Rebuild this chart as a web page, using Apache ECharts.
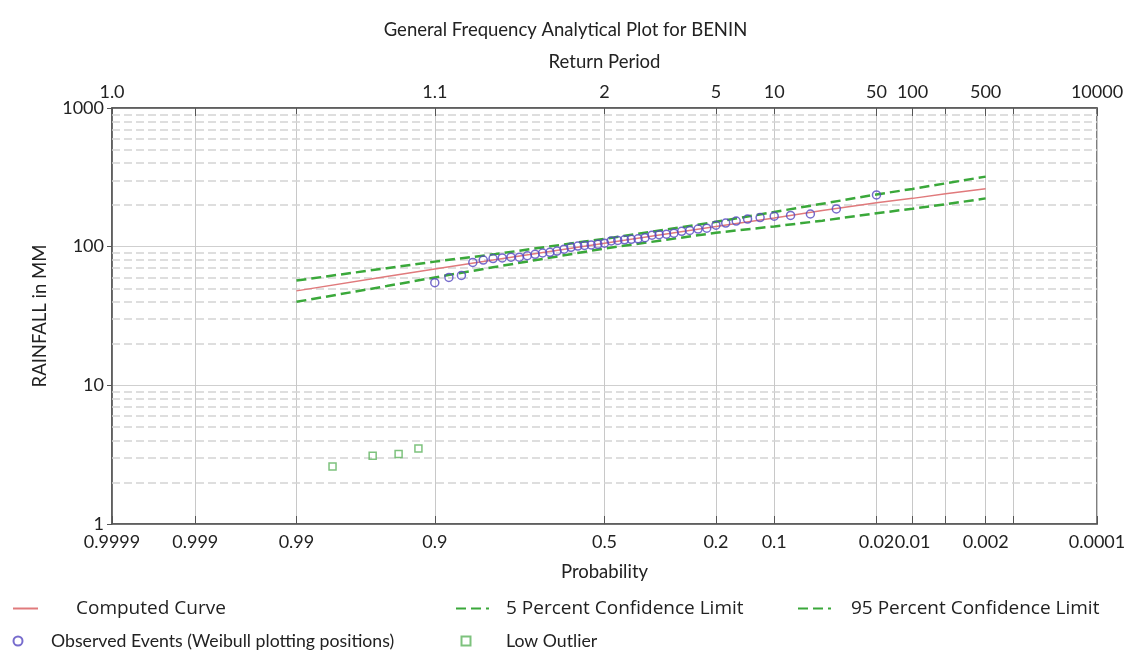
<!DOCTYPE html>
<html><head><meta charset="utf-8">
<script src="https://cdn.jsdelivr.net/npm/echarts@6/dist/echarts.min.js"></script>
<style>html,body{margin:0;padding:0;background:#fff}#c{width:1131px;height:662px}</style>
</head><body><div id="c"></div>
<script>
const FONT = 'Lato, "Open Sans", sans-serif';
const FONT_WIDE = '"Open Sans", Lato, sans-serif';

// exceedance probabilities used as ticks on the probability axis
const probTicks = [0.9999, 0.999, 0.99, 0.9, 0.5, 0.2, 0.1, 0.02, 0.01, 0.005, 0.002, 0.001, 0.0001];
const probLabels = ['0.9999', '0.999', '0.99', '0.9', '0.5', '0.2', '0.1', '0.02', '0.01', '', '0.002', '', '0.0001'];
const returnLabels = ['1.0', '', '', '1.1', '2', '5', '10', '50', '100', '', '500', '', '10000'];

// computed curve and confidence limits
const curveProb = [0.99, 0.95, 0.9, 0.8, 0.5, 0.2, 0.1, 0.05, 0.02, 0.01, 0.005, 0.002];
const computedVals = [48, 61, 69, 80, 106, 140, 161, 182, 207, 223, 241, 262];
const upper5Vals = [57, 70, 78, 88, 114, 151, 178, 204, 238, 261, 286, 320];
const lower95Vals = [40, 52, 60, 71, 97, 126, 140, 154, 174, 188, 202, 223];

// observed events (Weibull plotting positions)
const obsProb = [0.02, 0.04, 0.06, 0.08, 0.10, 0.12, 0.14, 0.16, 0.18, 0.20,
                 0.22, 0.24, 0.26, 0.28, 0.30, 0.32, 0.34, 0.36, 0.38, 0.40,
                 0.42, 0.44, 0.46, 0.48, 0.50, 0.52, 0.54, 0.56, 0.58, 0.60,
                 0.62, 0.64, 0.66, 0.68, 0.70, 0.72, 0.74, 0.76, 0.78, 0.80,
                 0.82, 0.84, 0.86, 0.88, 0.90];
const obsVals = [236, 187, 172, 168, 166, 162, 158, 153, 148, 143,
                 136, 134, 131, 129, 125, 123, 122, 121, 116, 114,
                 113, 112, 111, 110, 106, 104, 103, 102, 101, 99,
                 96, 93, 91, 90, 88, 86, 84, 84, 83, 82,
                 80, 77, 62, 60, 55];

// low outliers
const outlierProb = [0.92, 0.94, 0.96, 0.98];
const outlierVals = [3.5, 3.2, 3.1, 2.6];

// y-axis minor grid values (log decades)
const minorGridY = [2,3,4,5,6,7,8,9,20,30,40,50,60,70,80,90,200,300,400,500,600,700,800,900];

// inverse standard normal CDF (Acklam)
function normInv(p) {
  const a = [-3.969683028665376e+01, 2.209460984245205e+02, -2.759285104469687e+02, 1.383577518672690e+02, -3.066479806614716e+01, 2.506628277459239e+00];
  const b = [-5.447609879822406e+01, 1.615858368580409e+02, -1.556989798598866e+02, 6.680131188771972e+01, -1.328068155288572e+01];
  const c = [-7.784894002430293e-03, -3.223964580411365e-01, -2.400758277161838e+00, -2.549671348740609e+00, 4.374664141464968e+00, 2.938163982698783e+00];
  const d = [7.784695709041462e-03, 3.224671290700398e-01, 2.445134137142996e+00, 3.754408661907416e+00];
  const plow = 0.02425, phigh = 1 - plow;
  let q, r;
  if (p < plow) {
    q = Math.sqrt(-2 * Math.log(p));
    return (((((c[0]*q+c[1])*q+c[2])*q+c[3])*q+c[4])*q+c[5]) / ((((d[0]*q+d[1])*q+d[2])*q+d[3])*q+1);
  } else if (p <= phigh) {
    q = p - 0.5; r = q*q;
    return (((((a[0]*r+a[1])*r+a[2])*r+a[3])*r+a[4])*r+a[5])*q / (((((b[0]*r+b[1])*r+b[2])*r+b[3])*r+b[4])*r+1);
  } else {
    q = Math.sqrt(-2 * Math.log(1 - p));
    return -(((((c[0]*q+c[1])*q+c[2])*q+c[3])*q+c[4])*q+c[5]) / ((((d[0]*q+d[1])*q+d[2])*q+d[3])*q+1);
  }
}
// exceedance probability -> normal probability-paper coordinate
const zOf = p => normInv(1 - p);
const zTicks = probTicks.map(zOf);
const xMin = zTicks[0], xMax = zTicks[zTicks.length - 1];
function labelFor(arr) {
  return v => { for (let i = 0; i < zTicks.length; i++) if (Math.abs(zTicks[i] - v) < 1e-6) return arr[i]; return ''; };
}
const pairs = (ps, vs) => ps.map((p, i) => [zOf(p), vs[i]]);

const chart = echarts.init(document.getElementById('c'), null, { renderer: 'canvas' });
const axisLabelStyle = { color: '#222', fontSize: 18, fontFamily: FONT };
const nameStyle = { color: '#222', fontSize: 18.5, fontFamily: FONT };
const legendText = (pad, font, size) => ({ color: '#222', fontSize: size, fontFamily: font, padding: [0, 0, 0, pad] });

chart.setOption({
  animation: false,
  backgroundColor: '#fff',
  title: {
    text: 'General Frequency Analytical Plot for BENIN',
    left: 'center', top: 16,
    textStyle: { color: '#222', fontSize: 18.5, fontWeight: 'normal', fontFamily: FONT }
  },
  grid: { left: 112, right: 34, top: 108, bottom: 138, show: true, borderColor: '#555', borderWidth: 1.5, containLabel: false },
  xAxis: [{
    type: 'value', position: 'bottom', min: xMin, max: xMax,
    name: 'Probability', nameLocation: 'middle', nameGap: 39,
    nameTextStyle: nameStyle,
    axisLine: { show: true, onZero: false, lineStyle: { color: '#555', width: 1.5 } },
    axisTick: { show: true, inside: true, length: 8, customValues: zTicks, lineStyle: { color: '#555' } },
    axisLabel: { customValues: zTicks, formatter: labelFor(probLabels), margin: 9, ...axisLabelStyle },
    splitLine: { show: true, lineStyle: { color: '#c8c8c8', width: 1 } }
  }, {
    type: 'value', position: 'top', min: xMin, max: xMax,
    name: 'Return Period', nameLocation: 'middle', nameGap: 36,
    nameTextStyle: nameStyle,
    axisLine: { show: true, onZero: false, lineStyle: { color: '#555', width: 1.5 } },
    axisTick: { show: true, inside: true, length: 8, customValues: zTicks, lineStyle: { color: '#555' } },
    axisLabel: { customValues: zTicks, formatter: labelFor(returnLabels), margin: 7, ...axisLabelStyle },
    splitLine: { show: false }
  }],
  yAxis: {
    type: 'log', logBase: 10, min: 1, max: 1000,
    name: 'RAINFALL in MM', nameLocation: 'middle', nameRotate: 90, nameGap: 62,
    nameTextStyle: nameStyle,
    axisLine: { show: true, onZero: false, lineStyle: { color: '#555', width: 1.5 } },
    axisTick: { show: true, inside: false, length: 5, lineStyle: { color: '#555' } },
    axisLabel: { margin: 8, formatter: v => String(Math.round(v)), ...axisLabelStyle },
    splitLine: { show: true, lineStyle: { color: '#cfcfcf', width: 1 } },
    minorTick: { show: false }, minorSplitLine: { show: false }
  },
  legend: [
    { data: ['Computed Curve'], left: 7, top: 594, itemWidth: 25, itemHeight: 14, itemStyle: { opacity: 0 }, textStyle: legendText(33, FONT_WIDE, 19) },
    { data: ['5 Percent Confidence Limit'], left: 450, top: 594, itemWidth: 33, itemHeight: 14, itemStyle: { opacity: 0 }, textStyle: legendText(12, FONT_WIDE, 19) },
    { data: ['95 Percent Confidence Limit'], left: 792, top: 594, itemWidth: 33, itemHeight: 14, itemStyle: { opacity: 0 }, textStyle: legendText(15, FONT_WIDE, 19) },
    { data: ['Observed Events (Weibull plotting positions)'], left: 7.5, top: 627, itemWidth: 9, itemHeight: 9, textStyle: legendText(23.5, FONT, 17.7) },
    { data: ['Low Outlier'], left: 455.5, top: 627, itemWidth: 9, itemHeight: 9, textStyle: legendText(30.5, FONT, 17.7) }
  ],
  series: [
    {
      name: 'grid-minor', type: 'line', data: [], silent: true, z: 0,
      markLine: {
        silent: true, symbol: 'none', z: 1, animation: false,
        label: { show: false },
        lineStyle: { type: [8, 4], color: '#d4d4d4', width: 1.5 },
        data: minorGridY.map(v => ({ yAxis: v }))
      }
    },
    {
      name: 'Computed Curve', type: 'line', symbol: 'none', z: 3,
      lineStyle: { color: '#e07a7c', width: 1.5 }, itemStyle: { color: '#e07a7c' },
      data: pairs(curveProb, computedVals)
    },
    {
      name: '5 Percent Confidence Limit', type: 'line', symbol: 'none', z: 3,
      lineStyle: { color: '#3aa83a', width: 2.5, type: [10, 5] }, itemStyle: { color: '#3aa83a' },
      data: pairs(curveProb, upper5Vals)
    },
    {
      name: '95 Percent Confidence Limit', type: 'line', symbol: 'none', z: 3,
      lineStyle: { color: '#3aa83a', width: 2.5, type: [10, 5] }, itemStyle: { color: '#3aa83a' },
      data: pairs(curveProb, lower95Vals)
    },
    {
      name: 'Observed Events (Weibull plotting positions)', type: 'scatter', symbol: 'circle', symbolSize: 8, z: 4,
      itemStyle: { color: 'rgba(255,255,255,0)', borderColor: '#5547c0', borderWidth: 1.5 },
      data: pairs(obsProb, obsVals)
    },
    {
      name: 'Low Outlier', type: 'scatter', symbol: 'rect', symbolSize: 7, z: 4,
      itemStyle: { color: 'rgba(255,255,255,0)', borderColor: '#5cb35c', borderWidth: 1.5 },
      data: pairs(outlierProb, outlierVals)
    }
  ]
});
</script></body></html>
